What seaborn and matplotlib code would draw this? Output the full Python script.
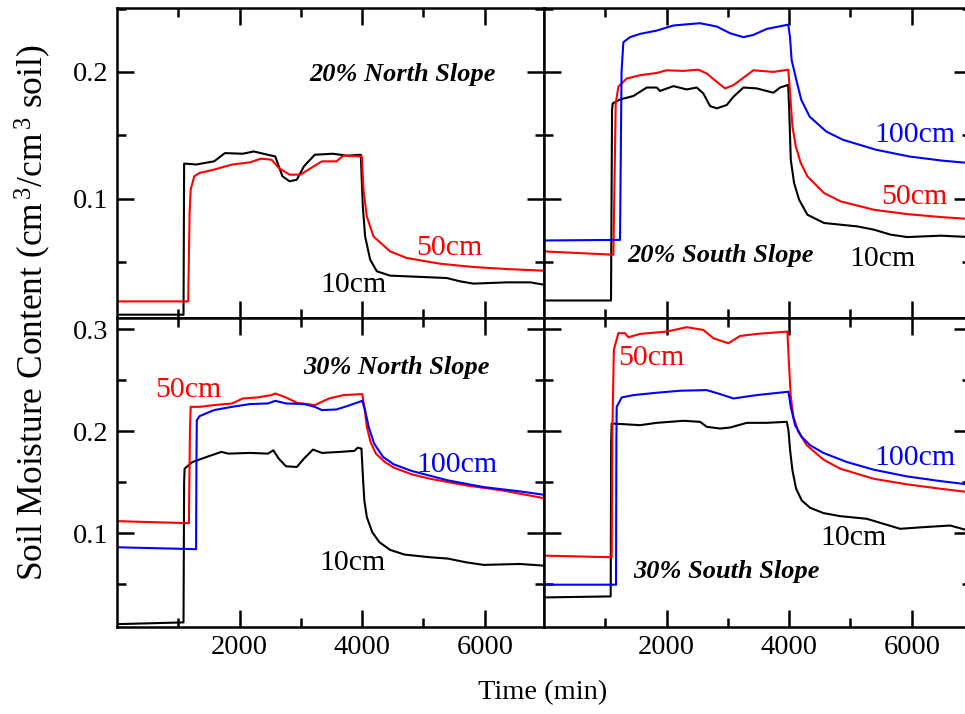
import matplotlib.pyplot as plt
import matplotlib.ticker as mt
import seaborn as sns
import pandas as pd

sns.set_theme(style="ticks")
plt.rcParams["font.family"] = ["Liberation Serif", "DejaVu Serif"]
plt.rcParams["mathtext.fontset"] = "custom"
plt.rcParams["mathtext.rm"] = "Liberation Serif"
plt.rcParams["mathtext.it"] = "Liberation Serif:italic"
for key in ["text.color", "axes.edgecolor", "xtick.color", "ytick.color", "axes.labelcolor"]:
    plt.rcParams[key] = "black"

# 20% North Slope
n20_10cm_t = [0, 1085, 1095, 1114, 1290, 1584, 1760, 2053, 2229, 2522, 2581, 2698, 2815, 2933, 3050,
              3226, 3519, 3754, 3977, 4010, 4048, 4130, 4239, 4456, 5000, 5381, 5598, 5815, 6359, 6740, 6960]
n20_10cm_v = [0.0086, 0.0086, 0.1277, 0.1277, 0.127, 0.1295, 0.136, 0.1355, 0.1373, 0.134, 0.1334, 0.1178,
              0.1138, 0.115, 0.1256, 0.1347, 0.1355, 0.134, 0.1347, 0.0939, 0.0703, 0.052, 0.0428, 0.0394,
              0.0383, 0.0375, 0.0349, 0.0331, 0.0341, 0.0341, 0.0323]
n20_50cm_t = [0, 1161, 1185, 1202, 1261, 1349, 1584, 1877, 2170, 2346, 2522, 2639, 2815, 2991, 3167, 3343,
              3578, 3695, 3994, 4021, 4075, 4184, 4456, 4727, 5271, 5815, 6359, 6960]
n20_50cm_v = [0.0191, 0.0191, 0.09, 0.1073, 0.1178, 0.1204, 0.123, 0.127, 0.1287, 0.1316, 0.1308, 0.1243,
              0.119, 0.119, 0.1243, 0.1295, 0.1295, 0.134, 0.1333, 0.1071, 0.0861, 0.0703, 0.0585, 0.0533,
              0.0488, 0.0462, 0.0446, 0.0433]

# 20% South Slope
s20_10cm_t = [0, 1093, 1110, 1121, 1240, 1458, 1676, 1839, 1893, 2111, 2328, 2492, 2600, 2709, 2818, 2981,
              3090, 3253, 3471, 3743, 3852, 3983, 4000, 4026, 4080, 4162, 4298, 4569, 5113, 5385, 5656,
              5928, 6472, 6960]
s20_10cm_v = [0.0198, 0.0198, 0.17, 0.1752, 0.1783, 0.181, 0.1877, 0.1877, 0.185, 0.1888, 0.1862, 0.1877,
              0.183, 0.1731, 0.1713, 0.1739, 0.1804, 0.1877, 0.187, 0.1836, 0.1877, 0.1898, 0.17, 0.1307,
              0.1124, 0.0992, 0.0874, 0.0809, 0.0782, 0.0756, 0.0717, 0.0698, 0.0709, 0.0698]
s20_50cm_t = [0, 1132, 1170, 1213, 1349, 1567, 1839, 2002, 2274, 2519, 2655, 2818, 2954, 3090, 3416, 3743,
              3985, 4015, 4053, 4108, 4189, 4298, 4569, 4841, 5385, 5928, 6472, 6960]
s20_50cm_v = [0.0585, 0.0559, 0.175, 0.1883, 0.1948, 0.1974, 0.1992, 0.2013, 0.2008, 0.2018, 0.1987, 0.1922,
              0.187, 0.1896, 0.2013, 0.2, 0.2018, 0.1832, 0.157, 0.1412, 0.1281, 0.1176, 0.1045, 0.0979,
              0.0913, 0.0879, 0.0856, 0.084]
s20_100cm_t = [0, 1240, 1265, 1295, 1404, 1567, 1839, 2111, 2274, 2546, 2818, 3036, 3253, 3416, 3634, 3985,
               4013, 4040, 4116, 4197, 4333, 4605, 4877, 5421, 5964, 6508, 6960]
s20_100cm_v = [0.0671, 0.0676, 0.2, 0.2235, 0.2274, 0.23, 0.2326, 0.2366, 0.2373, 0.2384, 0.2358, 0.2305,
               0.2274, 0.2292, 0.2339, 0.2373, 0.2274, 0.2094, 0.1937, 0.178, 0.1648, 0.153, 0.1465, 0.1386,
               0.1333, 0.13, 0.1281]

# 30% North Slope
n30_10cm_t = [0, 1085, 1095, 1103, 1232, 1466, 1701, 1818, 2170, 2463, 2551, 2639, 2757, 2933, 3050, 3197,
              3343, 3636, 3871, 3930, 3988, 4012, 4035, 4076, 4164, 4281, 4457, 4692, 5103, 5396, 5689,
              5982, 6569, 6960]
n30_10cm_v = [0.0108, 0.0125, 0.15, 0.1633, 0.1698, 0.1748, 0.1797, 0.178, 0.1787, 0.178, 0.1813, 0.1731,
              0.1656, 0.1649, 0.1731, 0.182, 0.1787, 0.1797, 0.1807, 0.1839, 0.1829, 0.1551, 0.1321, 0.1157,
              0.101, 0.0911, 0.0836, 0.079, 0.0764, 0.0751, 0.0715, 0.0689, 0.0698, 0.0682]
n30_50cm_t = [0, 1173, 1190, 1202, 1349, 1584, 1877, 2053, 2287, 2522, 2581, 2757, 2933, 3226, 3460, 3695,
              4000, 4035, 4076, 4135, 4223, 4370, 4516, 4809, 5103, 5689, 6276, 6960]
n30_50cm_v = [0.1118, 0.1098, 0.2, 0.2239, 0.2239, 0.2256, 0.2272, 0.2321, 0.2331, 0.2354, 0.237, 0.2331,
              0.2279, 0.2256, 0.2321, 0.2354, 0.2364, 0.2239, 0.2043, 0.1895, 0.178, 0.1698, 0.1643, 0.1577,
              0.1534, 0.1469, 0.142, 0.1344]
n30_100cm_t = [0, 1290, 1296, 1302, 1349, 1584, 1877, 2170, 2463, 2581, 2757, 3050, 3226, 3343, 3578, 3754,
               4000, 4047, 4106, 4194, 4340, 4516, 4809, 5396, 5982, 6569, 6960]
n30_100cm_v = [0.0862, 0.0843, 0.17, 0.2108, 0.2148, 0.2207, 0.2239, 0.2266, 0.2272, 0.2298, 0.2272, 0.2266,
               0.2239, 0.2207, 0.2213, 0.2246, 0.2298, 0.2207, 0.2043, 0.1879, 0.1748, 0.1675, 0.161, 0.1518,
               0.1452, 0.141, 0.1377]

# 30% South Slope
s30_10cm_t = [0, 1088, 1096, 1104, 1295, 1567, 1839, 2274, 2546, 2655, 2872, 3036, 3308, 3634, 3960, 3988,
              4015, 4053, 4113, 4205, 4341, 4559, 4831, 5266, 5538, 5810, 6191, 6626, 6960]
s30_10cm_v = [0.037, 0.038, 0.19, 0.2075, 0.2069, 0.2059, 0.2082, 0.2102, 0.2092, 0.2043, 0.2026, 0.2036,
              0.2082, 0.2082, 0.2092, 0.201, 0.1813, 0.1616, 0.1436, 0.1321, 0.1249, 0.1197, 0.1167, 0.1141,
              0.1092, 0.1043, 0.1059, 0.1075, 0.102]
s30_50cm_t = [0, 1104, 1115, 1140, 1213, 1322, 1376, 1567, 2002, 2328, 2600, 2764, 3008, 3199, 3471, 3971,
              3993, 4026, 4069, 4151, 4287, 4559, 4831, 5375, 5919, 6463, 6960]
s30_50cm_v = [0.078, 0.0764, 0.2, 0.28, 0.2961, 0.2961, 0.2921, 0.2954, 0.2977, 0.302, 0.2993, 0.2911,
              0.2862, 0.2934, 0.2954, 0.2977, 0.2698, 0.2338, 0.2141, 0.1993, 0.1862, 0.1721, 0.1633, 0.1534,
              0.1479, 0.1436, 0.14]
s30_100cm_t = [0, 1175, 1181, 1186, 1268, 1458, 1839, 2220, 2655, 2872, 3090, 3471, 3988, 4026, 4096, 4205,
               4341, 4559, 4940, 5375, 5919, 6463, 6960]
s30_100cm_v = [0.0495, 0.0495, 0.19, 0.2239, 0.2331, 0.2354, 0.2377, 0.2397, 0.2403, 0.2364, 0.2321, 0.2354,
               0.2387, 0.2239, 0.2059, 0.1944, 0.1862, 0.1787, 0.1698, 0.1623, 0.1557, 0.1511, 0.1475]

colors = {"10cm": "black", "50cm": "#ff0000", "100cm": "#0000ff"}


def draw_panel(ax, series, title, title_xy, labels, ylim, xlabels, ylabels):
    df = pd.concat([pd.DataFrame({"time": t, "theta": v, "depth": d}) for d, t, v in series])
    sns.lineplot(data=df, x="time", y="theta", hue="depth", palette=colors, estimator=None,
                 sort=False, lw=1.5, legend=False, ax=ax)
    ax.set_xlim(0, 6966)
    ax.set_ylim(*ylim)
    ax.set_xlabel("")
    ax.set_ylabel("")
    ax.xaxis.set_major_locator(mt.FixedLocator([2000, 4000, 6000]))
    ax.xaxis.set_minor_locator(mt.FixedLocator([1000, 3000, 5000]))
    ax.yaxis.set_major_locator(mt.MultipleLocator(0.1))
    ax.yaxis.set_minor_locator(mt.MultipleLocator(0.05))
    ax.yaxis.set_major_formatter(mt.FormatStrFormatter("%g"))
    ax.tick_params(which="both", direction="in", top=True, right=True, width=1.8,
                   labelsize=20.5, pad=6, labelbottom=xlabels, labelleft=ylabels)
    ax.tick_params(which="major", length=12)
    ax.tick_params(which="minor", length=6.5)
    for s in ax.spines.values():
        s.set_linewidth(1.8)
    ax.text(*title_xy, title, transform=ax.transAxes, ha="center", va="center",
            fontsize=19, fontweight="bold", fontstyle="italic")
    for d, x, y in labels:
        ax.text(x, y, d, color=colors[d], ha="center", va="center", fontsize=21.5)


fig = plt.figure(figsize=(9.65, 7.14), dpi=100)
W, H = 965, 714
w = 427 / W
top_b, top_h = (H - 318) / H, 310 / H
bot_b, bot_h = (H - 627) / H, 309 / H
ax_tl = fig.add_axes([117 / W, top_b, w, top_h])
ax_tr = fig.add_axes([544 / W, top_b, w, top_h])
ax_bl = fig.add_axes([117 / W, bot_b, w, bot_h])
ax_br = fig.add_axes([544 / W, bot_b, w, bot_h])

top_lim = (0.006, 0.2504)
bot_lim = (0.008, 0.311)

draw_panel(ax_tl, [("10cm", n20_10cm_t, n20_10cm_v), ("50cm", n20_50cm_t, n20_50cm_v)],
           "20% North Slope", (0.669, 0.784),
           [("10cm", 3866, 0.0323), ("50cm", 5416, 0.0614)], top_lim, False, True)
draw_panel(ax_tr, [("10cm", s20_10cm_t, s20_10cm_v), ("50cm", s20_50cm_t, s20_50cm_v),
                   ("100cm", s20_100cm_t, s20_100cm_v)],
           "20% South Slope", (0.413, 0.203),
           [("100cm", 6052, 0.150), ("50cm", 6036, 0.1016), ("10cm", 5530, 0.0528)], top_lim, False, False)
draw_panel(ax_bl, [("10cm", n30_10cm_t, n30_10cm_v), ("50cm", n30_50cm_t, n30_50cm_v),
                   ("100cm", n30_100cm_t, n30_100cm_v)],
           "30% North Slope", (0.655, 0.841),
           [("50cm", 1158, 0.2402), ("100cm", 5546, 0.1667), ("10cm", 3850, 0.0706)], bot_lim, True, True)
draw_panel(ax_br, [("10cm", s30_10cm_t, s30_10cm_v), ("50cm", s30_50cm_t, s30_50cm_v),
                   ("100cm", s30_100cm_t, s30_100cm_v)],
           "30% South Slope", (0.427, 0.178),
           [("50cm", 1745, 0.2716), ("100cm", 6052, 0.1735), ("10cm", 5041, 0.0951)], bot_lim, True, False)

fig.text(33 / W, (H - 313) / H, r"Soil Moisture Content (cm$^{\,3}$/cm$^{\,3}$ soil)", rotation=90,
         ha="center", va="center", fontsize=25.5)
fig.text(543 / W, (H - 693) / H, "Time (min)", ha="center", va="center", fontsize=20.5)

fig.savefig("out.png", dpi=100)
